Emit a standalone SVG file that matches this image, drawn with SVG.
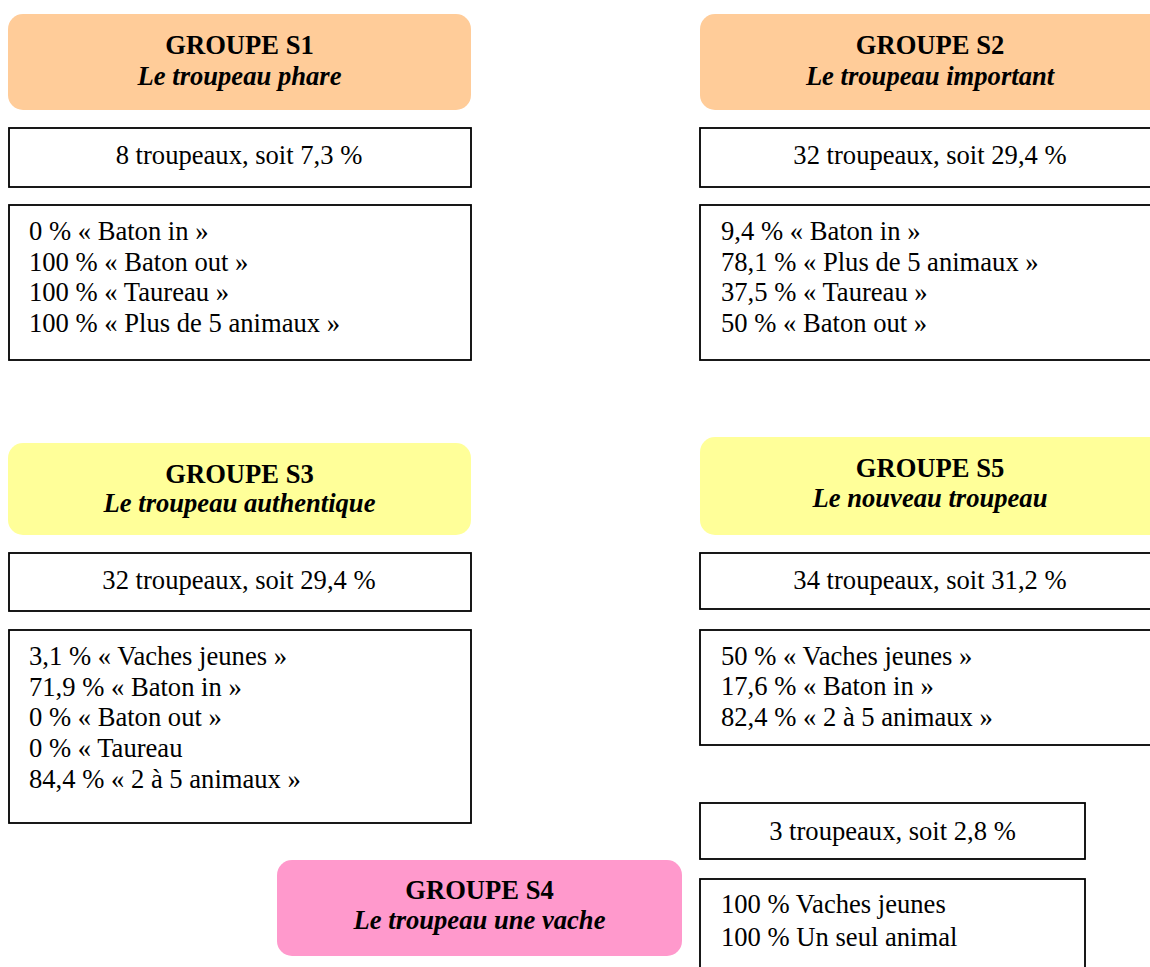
<svg xmlns="http://www.w3.org/2000/svg" width="1150" height="967" viewBox="0 0 1150 967">
<style>
text{font-family:"Liberation Serif","Times New Roman",serif;font-size:26.6px;fill:#000}
.h{font-weight:bold;text-anchor:middle}
.hi{font-weight:bold;font-style:italic;text-anchor:middle}
.c{text-anchor:middle}
.box{fill:#fff;stroke:#000;stroke-width:1.8}
.or{fill:#FFCC99}
.ye{fill:#FFFF99}
.pk{fill:#FF99CC}
</style>
<rect width="1150" height="967" fill="#fff"/>
<g id="S1">
<rect class="or" x="8" y="14" width="463" height="96" rx="15"/>
<text class="h" x="239.5" y="54">GROUPE S1</text>
<text class="hi" x="239.5" y="85">Le troupeau phare</text>
<rect class="box" x="9" y="128" width="462" height="59"/>
<text class="c" x="239" y="164">8 troupeaux, soit 7,3 %</text>
<rect class="box" x="9" y="205" width="462" height="155"/>
<text x="29" y="240">0 % « Baton in »</text>
<text x="29" y="271">100 % « Baton out »</text>
<text x="29" y="301">100 % « Taureau »</text>
<text x="29" y="332">100 % « Plus de 5 animaux »</text>
</g>
<g id="S2">
<rect class="or" x="700" y="14" width="465" height="96" rx="15"/>
<text class="h" x="930" y="54">GROUPE S2</text>
<text class="hi" x="930" y="85">Le troupeau important</text>
<rect class="box" x="700" y="128" width="470" height="59"/>
<text class="c" x="930" y="164">32 troupeaux, soit 29,4 %</text>
<rect class="box" x="700" y="205" width="470" height="155"/>
<text x="721" y="240">9,4 % « Baton in »</text>
<text x="721" y="271">78,1 % « Plus de 5 animaux »</text>
<text x="721" y="301">37,5 % « Taureau »</text>
<text x="721" y="332">50 % « Baton out »</text>
</g>
<g id="S3">
<rect class="ye" x="8" y="443" width="463" height="92" rx="15"/>
<text class="h" x="239.5" y="483">GROUPE S3</text>
<text class="hi" x="239.5" y="512">Le troupeau authentique</text>
<rect class="box" x="9" y="553" width="462" height="58"/>
<text class="c" x="239" y="589">32 troupeaux, soit 29,4 %</text>
<rect class="box" x="9" y="630" width="462" height="193"/>
<text x="29" y="665">3,1 % « Vaches jeunes »</text>
<text x="29" y="696">71,9 % « Baton in »</text>
<text x="29" y="726">0 % « Baton out »</text>
<text x="29" y="757">0 % « Taureau</text>
<text x="29" y="788">84,4 % « 2 à 5 animaux »</text>
</g>
<g id="S5">
<rect class="ye" x="700" y="437" width="465" height="98" rx="15"/>
<text class="h" x="930" y="477">GROUPE S5</text>
<text class="hi" x="930" y="507">Le nouveau troupeau</text>
<rect class="box" x="700" y="553" width="470" height="56"/>
<text class="c" x="930" y="589">34 troupeaux, soit 31,2 %</text>
<rect class="box" x="700" y="630" width="470" height="115"/>
<text x="721" y="665">50 % « Vaches jeunes »</text>
<text x="721" y="695">17,6 % « Baton in »</text>
<text x="721" y="726">82,4 % « 2 à 5 animaux »</text>
</g>
<g id="S4">
<rect class="pk" x="277" y="860" width="405" height="96" rx="15"/>
<text class="h" x="479.5" y="899">GROUPE S4</text>
<text class="hi" x="479.5" y="929">Le troupeau une vache</text>
<rect class="box" x="700" y="803" width="385" height="56"/>
<text class="c" x="892.5" y="840">3 troupeaux, soit 2,8 %</text>
<rect class="box" x="700" y="879" width="385" height="100"/>
<text x="721" y="913">100 % Vaches jeunes</text>
<text x="721" y="946">100 % Un seul animal</text>
</g>
<g id="connectors"></g>
</svg>
